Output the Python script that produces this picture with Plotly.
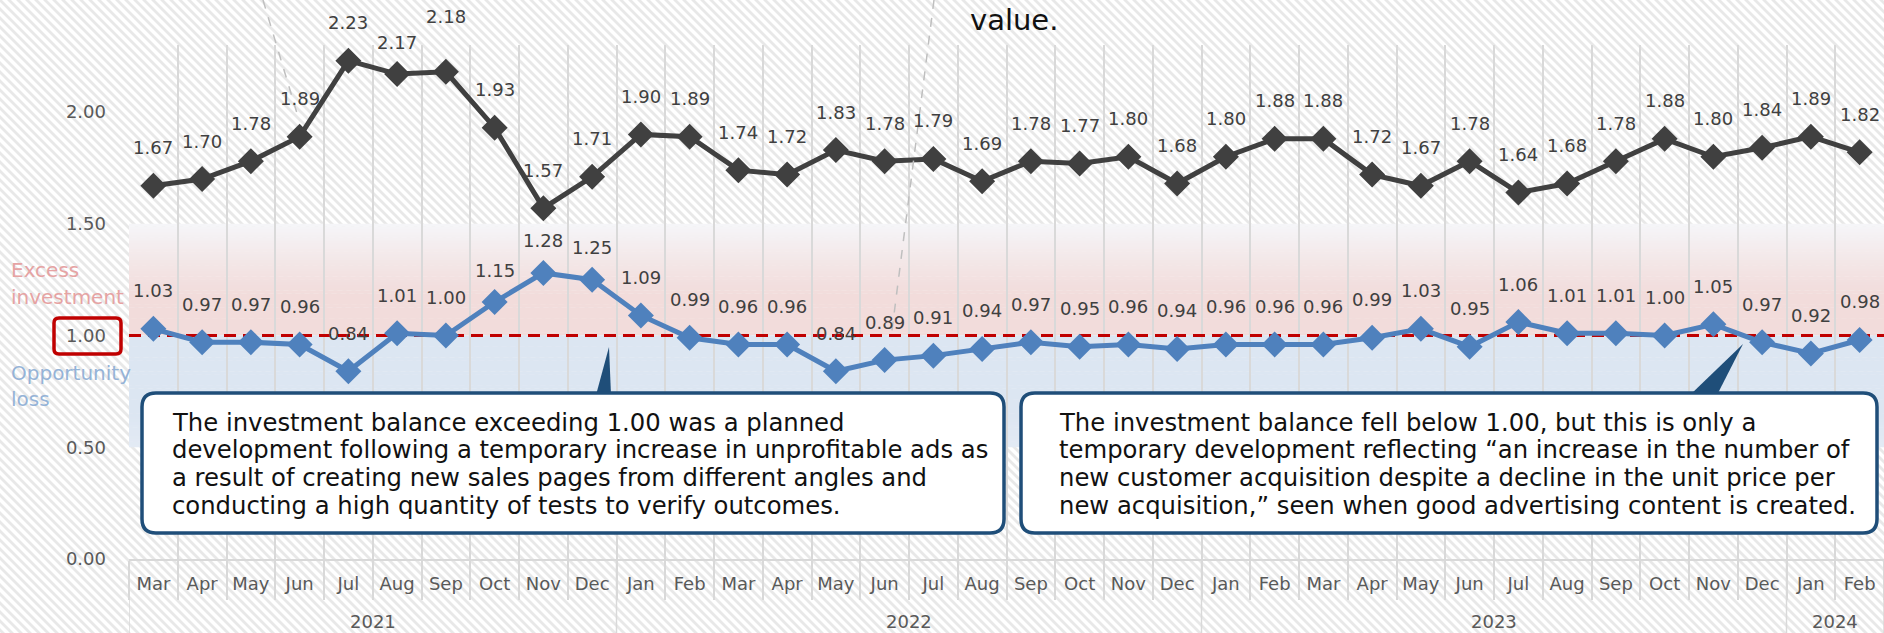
import base64
import plotly.graph_objects as go

# ---------------- data ----------------
years = ["2021"] * 10 + ["2022"] * 12 + ["2023"] * 12 + ["2024"] * 2
months = ["Mar", "Apr", "May", "Jun", "Jul", "Aug", "Sep", "Oct", "Nov", "Dec",
          "Jan", "Feb", "Mar", "Apr", "May", "Jun", "Jul", "Aug", "Sep", "Oct", "Nov", "Dec",
          "Jan", "Feb", "Mar", "Apr", "May", "Jun", "Jul", "Aug", "Sep", "Oct", "Nov", "Dec",
          "Jan", "Feb"]
roas = [1.67, 1.70, 1.78, 1.89, 2.23, 2.17, 2.18, 1.93, 1.57, 1.71,
        1.90, 1.89, 1.74, 1.72, 1.83, 1.78, 1.79, 1.69, 1.78, 1.77, 1.80, 1.68,
        1.80, 1.88, 1.88, 1.72, 1.67, 1.78, 1.64, 1.68, 1.78, 1.88, 1.80, 1.84,
        1.89, 1.82]
balance = [1.03, 0.97, 0.97, 0.96, 0.84, 1.01, 1.00, 1.15, 1.28, 1.25,
           1.09, 0.99, 0.96, 0.96, 0.84, 0.89, 0.91, 0.94, 0.97, 0.95, 0.96, 0.94,
           0.96, 0.96, 0.96, 0.99, 1.03, 0.95, 1.06, 1.01, 1.01, 1.00, 1.05, 0.97,
           0.92, 0.98]
y_tick_vals = [0.0, 0.5, 1.0, 1.5, 2.0]
target = 1.0
band_excess = (1.0, 1.5)
band_loss = (0.5, 1.0)
note_left = ["The investment balance exceeding 1.00 was a planned",
             "development following a temporary increase in unprofitable ads as",
             "a result of creating new sales pages from different angles and",
             "conducting a high quantity of tests to verify outcomes."]
note_right = ["The investment balance fell below 1.00, but this is only a",
              "temporary development reflecting \u201can increase in the number of",
              "new customer acquisition despite a decline in the unit price per",
              "new acquisition,\u201d seen when good advertising content is created."]

# ---------------- geometry ----------------
FW, FH = 1884, 633
L, R, T, B = 129, 0, 45, 74
W, H = FW - L - R, FH - T - B
FONT = "DejaVu Sans"
n = len(months)
x = list(range(n))


def X(px):
    return (px - L) / W


def Y(py):
    return (T + H - py) / H


def rrect(x0, y0, x1, y1, r):
    return (f"M {X(x0 + r)},{Y(y0)} L {X(x1 - r)},{Y(y0)} Q {X(x1)},{Y(y0)} {X(x1)},{Y(y0 + r)} "
            f"L {X(x1)},{Y(y1 - r)} Q {X(x1)},{Y(y1)} {X(x1 - r)},{Y(y1)} "
            f"L {X(x0 + r)},{Y(y1)} Q {X(x0)},{Y(y1)} {X(x0)},{Y(y1 - r)} "
            f"L {X(x0)},{Y(y0 + r)} Q {X(x0)},{Y(y0)} {X(x0 + r)},{Y(y0)} Z")


def poly(pts):
    return "M " + " L ".join(f"{X(a)},{Y(b)}" for a, b in pts) + " Z"


def lerp(c1, c2, t):
    a = [int(c1[i:i + 2], 16) for i in (1, 3, 5)]
    b = [int(c2[i:i + 2], 16) for i in (1, 3, 5)]
    return "rgb(%d,%d,%d)" % tuple(round(a[k] + (b[k] - a[k]) * t) for k in range(3))


fig = go.Figure()

# target line
fig.add_trace(go.Scatter(x=[-0.5, n - 0.5], y=[target, target], mode="lines",
                         line=dict(color="#c00000", width=3, dash="12px,7px"),
                         hoverinfo="skip", showlegend=False))
fig.add_trace(go.Scatter(x=x, y=roas, mode="lines+markers", name="ROAS",
                         line=dict(color="#404040", width=5),
                         marker=dict(symbol="diamond", size=20, color="#404040"),
                         showlegend=False))
fig.add_trace(go.Scatter(x=x, y=balance, mode="lines+markers", name="Investment balance",
                         line=dict(color="#4f81bd", width=5),
                         marker=dict(symbol="diamond", size=20, color="#4f81bd"),
                         showlegend=False))

shapes = []
# bands (gradient strips)
NS = 40
lo, hi = band_excess
for i in range(NS):
    y0 = lo + (hi - lo) * i / NS
    y1 = lo + (hi - lo) * (i + 1) / NS + 0.002
    t = (i + 0.5) / NS
    tt = 0 if t < 0.35 else min(1, (t - 0.35) / 0.65)
    col = lerp("#f2dcdb", "#f5f6f9", tt ** 1.2)
    shapes.append(dict(type="rect", xref="x", yref="y", x0=-0.5, x1=n - 0.5, y0=y0, y1=min(y1, hi),
                       fillcolor=col, line=dict(width=0), layer="below"))
lo, hi = band_loss
for i in range(NS):
    y0 = lo + (hi - lo) * i / NS
    y1 = lo + (hi - lo) * (i + 1) / NS + 0.002
    t = (i + 0.5) / NS
    tt = 0 if t > 0.3 else (0.3 - t) / 0.3
    col = lerp("#dce6f2", "#e3eaf4", tt)
    shapes.append(dict(type="rect", xref="x", yref="y", x0=-0.5, x1=n - 0.5, y0=y0, y1=min(y1, hi),
                       fillcolor=col, line=dict(width=0), layer="below"))

# year separators and labels
annotations = []
bounds = [-0.5] + [i - 0.5 for i in range(1, n) if years[i] != years[i - 1]] + [n - 0.5]
for b in bounds:
    shapes.append(dict(type="line", xref="x", yref="paper", x0=b, x1=b, y0=0, y1=-B / H,
                       line=dict(color="#d9d9d9", width=1.5)))
for yr in dict.fromkeys(years):
    idx = [i for i, v in enumerate(years) if v == yr]
    annotations.append(dict(x=sum(idx) / len(idx), y=Y(621), xref="x", yref="paper",
                            text=yr, showarrow=False, yanchor="middle",
                            font=dict(family=FONT, size=18, color="#595959")))

# data labels
shift_roas = {5: 32, 6: 55}
shift_bal = {7: 32, 8: 32, 9: 32}
for i in x:
    annotations.append(dict(x=i, y=roas[i], xref="x", yref="y", text=f"{roas[i]:.2f}",
                            showarrow=False, yshift=shift_roas.get(i, 38), yanchor="middle",
                            font=dict(family=FONT, size=18, color="#404040")))
    annotations.append(dict(x=i, y=balance[i], xref="x", yref="y", text=f"{balance[i]:.2f}",
                            showarrow=False, yshift=shift_bal.get(i, 38), yanchor="middle",
                            font=dict(family=FONT, size=18, color="#404040")))

# side labels
for txt, py, col in [("Excess", 270, "#e6a3a3"), ("investment", 297, "#e6a3a3"),
                     ("Opportunity", 373, "#95b3d7"), ("loss", 399, "#95b3d7")]:
    annotations.append(dict(x=X(9), y=Y(py), xref="paper", yref="paper", text=txt,
                            xanchor="left", yanchor="middle", showarrow=False,
                            font=dict(family=FONT, size=20, color=col)))
# red box around 1.00
shapes.append(dict(type="path", xref="paper", yref="paper", path=rrect(54, 318, 121, 354, 5),
                   line=dict(color="#c00000", width=3.5), fillcolor="rgba(0,0,0,0)", layer="above"))

# dashed leader lines from callouts above
for (ax, ay, bx, by) in [(263, 0, 299, 120), (934, 0, 891, 338)]:
    shapes.append(dict(type="line", xref="paper", yref="paper", x0=X(ax), y0=Y(ay), x1=X(bx), y1=Y(by),
                       line=dict(color="#bfbfbf", width=1.5, dash="dash"), layer="above"))
annotations.append(dict(x=X(968), y=Y(20), xref="paper", yref="paper", text="value.",
                        xanchor="left", yanchor="middle", showarrow=False,
                        font=dict(family=FONT, size=29, color="#111111")))

# callout boxes
BLUE = "#1f4e79"
shapes.append(dict(type="path", xref="paper", yref="paper", path=poly([(596, 395), (611, 395), (609, 347)]),
                   fillcolor=BLUE, line=dict(width=0), layer="above"))
shapes.append(dict(type="path", xref="paper", yref="paper", path=poly([(1690, 395), (1717, 395), (1743, 344)]),
                   fillcolor=BLUE, line=dict(width=0), layer="above"))
shapes.append(dict(type="path", xref="paper", yref="paper", path=rrect(142, 393, 1004, 533, 14),
                   fillcolor="white", line=dict(color=BLUE, width=3.5), layer="above"))
shapes.append(dict(type="path", xref="paper", yref="paper", path=rrect(1021, 393, 1877, 533, 14),
                   fillcolor="white", line=dict(color=BLUE, width=3.5), layer="above"))
for lines, px in [(note_left, 170), (note_right, 1057)]:
    for k, txt in enumerate(lines):
        annotations.append(dict(x=X(px), y=Y(422 + 27.7 * k), xref="paper", yref="paper", text=txt,
                                xanchor="left", yanchor="middle", showarrow=False,
                                font=dict(family=FONT, size=24.3, color="#111111")))

# hatch background
svg = (f'<svg xmlns="http://www.w3.org/2000/svg" width="{FW}" height="{FH}">'
       '<defs><pattern id="h" width="9" height="9" patternUnits="userSpaceOnUse">'
       '<rect width="9" height="9" fill="#ffffff"/>'
       '<path d="M-2,-2 L11,11 M-2,7 L2,11 M7,-2 L11,2" stroke="#e8e8e8" stroke-width="2.8"/>'
       '</pattern></defs>'
       f'<rect width="{FW}" height="{FH}" fill="url(#h)"/></svg>')
src = "data:image/svg+xml;base64," + base64.b64encode(svg.encode()).decode()

fig.update_layout(
    width=FW, height=FH, margin=dict(l=L, r=R, t=T, b=B),
    paper_bgcolor="rgba(0,0,0,0)", plot_bgcolor="rgba(0,0,0,0)",
    font=dict(family=FONT, size=18, color="#595959"),
    shapes=shapes, annotations=annotations,
    images=[dict(source=src, xref="paper", yref="paper", x=-L / W, y=1 + T / H,
                 sizex=FW / W, sizey=FH / H, xanchor="left", yanchor="top",
                 sizing="stretch", layer="below")],
    xaxis=dict(range=[-0.5, n - 0.5], tickmode="array", tickvals=x, ticktext=months,
               ticks="", showgrid=False, zeroline=False, showline=True, linecolor="#d9d9d9",
               linewidth=2, ticklabelstandoff=7,
               tickfont=dict(family=FONT, size=18, color="#595959"),
               minor=dict(tickmode="array", tickvals=[i - 0.5 for i in range(n + 1)],
                          ticks="outside", ticklen=39, tickwidth=1.5, tickcolor="#d9d9d9",
                          showgrid=True, gridcolor="#d9d9d9", gridwidth=1.5)),
    yaxis=dict(range=[0, 2.3], tickmode="array", tickvals=y_tick_vals, tickformat=".2f",
               showgrid=False, zeroline=False, showline=False, ticks="",
               ticklabelstandoff=22, tickfont=dict(family=FONT, size=18, color="#595959")),
    showlegend=False,
)

fig.write_html("out.html", config={"displayModeBar": False},
               post_script="document.body.style.margin='0';")
